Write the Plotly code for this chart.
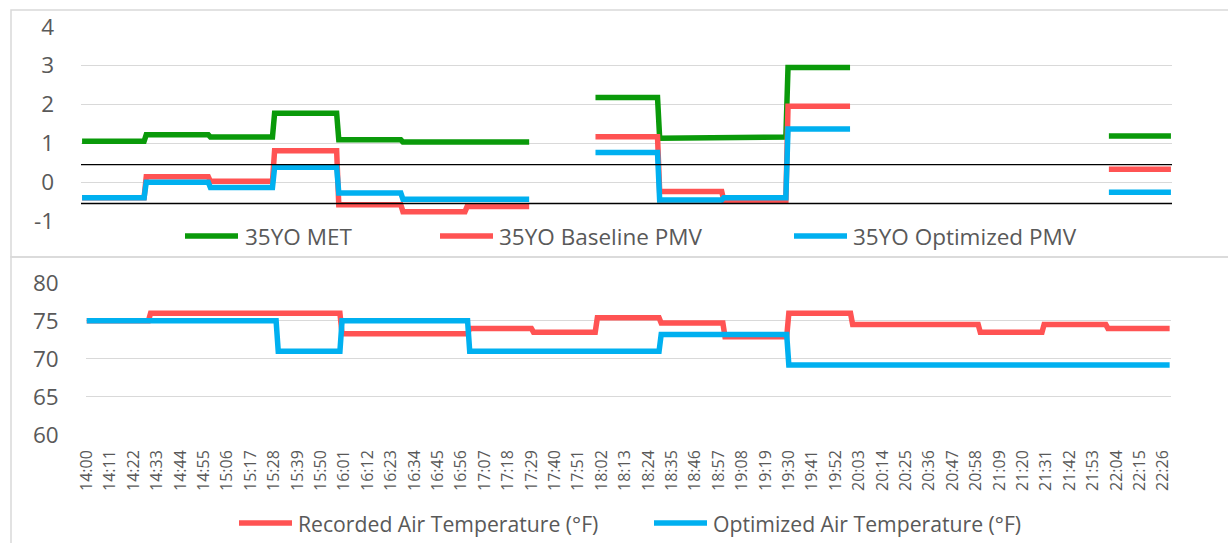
import plotly.graph_objects as go

# ---- data (30-minute blocks starting 14:00, one sample per minute) ----
BLOCK_STARTS = ["14:00", "14:30", "15:00", "15:30", "16:00", "16:30", "17:00", "17:30",
                "18:00", "18:30", "19:00", "19:30", "20:00", "20:30", "21:00", "21:30", "22:00"]
MINUTES_PER_BLOCK = 30

met_35yo = [1.05, 1.22, 1.16, 1.77, 1.09, 1.03, 1.03, None,
            2.18, 1.13, 1.16, 2.95, None, None, None, None, 1.19]
pmv_baseline = [-0.40, 0.14, 0.02, 0.81, -0.58, -0.76, -0.63, None,
                1.17, -0.24, -0.47, 1.95, None, None, None, None, 0.33]
pmv_optimized = [-0.40, 0.00, -0.14, 0.38, -0.28, -0.44, -0.44, None,
                 0.76, -0.46, -0.40, 1.37, None, None, None, None, -0.26]

temp_recorded = [75.0, 76.0, 76.0, 76.0, 73.3, 73.3, 74.0, 73.5,
                 75.4, 74.7, 72.9, 76.0, 74.5, 74.5, 73.5, 74.5, 74.0]
temp_optimized = [75.0, 75.0, 75.0, 71.0, 75.0, 75.0, 71.0, 71.0,
                  71.0, 73.2, 73.2, 69.2, 69.2, 69.2, 69.2, 69.2, 69.2]

comfort_band = [0.45, -0.55]

pmv_ticks = [-1, 0, 1, 2, 3, 4]
pmv_tick_labels = ["-1", "0", "1", "2", "3", "4"]
temp_ticks = [60, 65, 70, 75, 80]

tick_labels = ["14:00", "14:11", "14:22", "14:33", "14:44", "14:55", "15:06", "15:17",
               "15:28", "15:39", "15:50", "16:01", "16:12", "16:23", "16:34", "16:45",
               "16:56", "17:07", "17:18", "17:29", "17:40", "17:51", "18:02", "18:13",
               "18:24", "18:35", "18:46", "18:57", "19:08", "19:19", "19:30", "19:41",
               "19:52", "20:03", "20:14", "20:25", "20:36", "20:47", "20:58", "21:09",
               "21:20", "21:31", "21:42", "21:53", "22:04", "22:15", "22:26"]
TICK_STEP = 11


def expand(blocks):
    out = []
    for v in blocks:
        out.extend([v] * MINUTES_PER_BLOCK)
    return out


n = len(BLOCK_STARTS) * MINUTES_PER_BLOCK
x = list(range(n))
tickvals = [i * TICK_STEP for i in range(len(tick_labels))]

GREEN = "#0A9A0A"
RED = "#FF5353"
BLUE = "#00B0F0"
GRID = "#D9D9D9"
TXT = "#595959"
FONT = "Open Sans"
LW = 5.5

fig = go.Figure()
fig.add_trace(go.Scatter(x=x, y=expand(met_35yo), mode="lines", name="35YO MET",
                         line=dict(color=GREEN, width=LW), xaxis="x", yaxis="y", showlegend=False))
fig.add_trace(go.Scatter(x=x, y=expand(pmv_baseline), mode="lines", name="35YO Baseline PMV",
                         line=dict(color=RED, width=LW), xaxis="x", yaxis="y", showlegend=False))
fig.add_trace(go.Scatter(x=x, y=expand(pmv_optimized), mode="lines", name="35YO Optimized PMV",
                         line=dict(color=BLUE, width=LW), xaxis="x", yaxis="y", showlegend=False))
fig.add_trace(go.Scatter(x=x, y=expand(temp_recorded), mode="lines", name="Recorded Air Temperature (°F)",
                         line=dict(color=RED, width=LW), xaxis="x2", yaxis="y2", showlegend=False))
fig.add_trace(go.Scatter(x=x, y=expand(temp_optimized), mode="lines", name="Optimized Air Temperature (°F)",
                         line=dict(color=BLUE, width=LW), xaxis="x2", yaxis="y2", showlegend=False))

W, H = 1228, 543


def px(v):
    return v / W


def py(v):
    return 1 - v / H


shapes = []
for val in comfort_band:
    shapes.append(dict(type="line", xref="x domain", yref="y", x0=0, x1=1, y0=val, y1=val,
                       line=dict(color="#000000", width=1.3), layer="above"))
# chart borders
shapes.append(dict(type="rect", xref="paper", yref="paper", x0=px(11), x1=px(1240), y0=py(257), y1=py(10),
                   line=dict(color=GRID, width=1.5), layer="below"))
shapes.append(dict(type="rect", xref="paper", yref="paper", x0=px(11), x1=px(1240), y0=py(560), y1=py(257),
                   line=dict(color=GRID, width=1.5), layer="below"))

# manual legends
legend_items = [
    (185, 238, 243, 236, GREEN, "35YO MET", 22.5),
    (440, 493, 497, 236, RED, "35YO Baseline PMV", 22.5),
    (794, 847, 851, 236, BLUE, "35YO Optimized PMV", 22.5),
    (239, 292, 296, 523, RED, "Recorded Air Temperature (°F)", 21.2),
    (654, 707, 711, 523, BLUE, "Optimized Air Temperature (°F)", 21.2),
]
annotations = []
for x0, x1, tx, yy, col, label, fs in legend_items:
    shapes.append(dict(type="line", xref="paper", yref="paper", x0=px(x0), x1=px(x1), y0=py(yy), y1=py(yy),
                       line=dict(color=col, width=LW)))
    annotations.append(dict(xref="paper", yref="paper", x=px(tx), y=py(yy), text=label, showarrow=False,
                            xanchor="left", yanchor="middle", font=dict(family=FONT, size=fs, color=TXT)))

fig.update_layout(
    template="none",
    width=W, height=H,
    margin=dict(l=0, r=0, t=0, b=0, pad=0, autoexpand=False),
    paper_bgcolor="white", plot_bgcolor="white",
    showlegend=False,
    font=dict(family=FONT, color=TXT),
    shapes=shapes, annotations=annotations,
    xaxis=dict(domain=[px(81), px(1172)], range=[-0.5, n - 0.5], showticklabels=False, ticks="",
               showgrid=False, zeroline=False, showline=False, anchor="y", automargin=False),
    yaxis=dict(domain=[py(221), py(26.7)], range=[-1, 4], tickmode="array", tickvals=pmv_ticks,
               ticktext=pmv_tick_labels, showgrid=True, gridcolor=GRID,
               gridwidth=1.2, zeroline=False, showline=False, anchor="x", ticks="", automargin=False,
               tickfont=dict(family=FONT, size=22.5, color=TXT), ticklabelstandoff=26),
    xaxis2=dict(domain=[px(85.7), px(1170.7)], range=[-0.5, n - 0.5], tickmode="array",
                tickvals=tickvals, ticktext=tick_labels, tickangle=-90, showgrid=False, ticks="",
                zeroline=False, showline=False, anchor="y2", automargin=False,
                tickfont=dict(family=FONT, size=16, color=TXT), ticklabelstandoff=11),
    yaxis2=dict(domain=[py(435), py(282.7)], range=[60, 80], tickmode="array", tickvals=temp_ticks,
                showgrid=True, gridcolor=GRID,
                gridwidth=1.2, zeroline=False, showline=False, anchor="x2", ticks="", automargin=False,
                tickfont=dict(family=FONT, size=22.5, color=TXT), ticklabelstandoff=26),
)

fig.write_html("out.html", config={"displayModeBar": False},
               post_script="document.body.style.margin='0px';document.body.style.overflow='hidden';")
